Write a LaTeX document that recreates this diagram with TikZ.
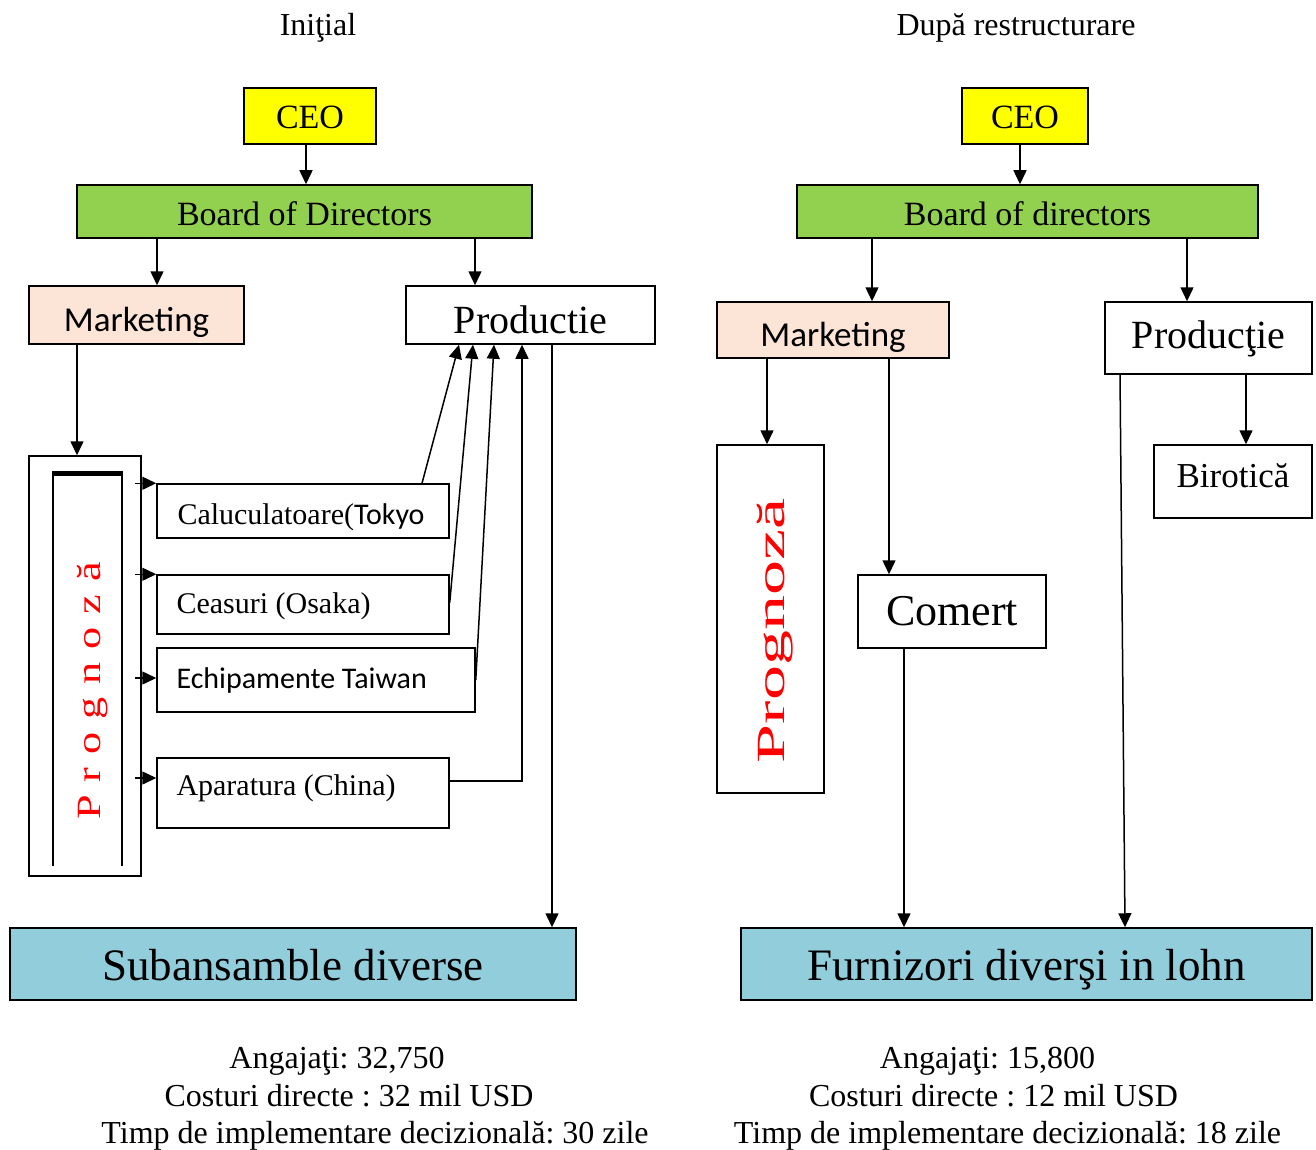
\documentclass[tikz,border=0pt]{standalone}
\usepackage{fontspec}
\setmainfont{Liberation Serif}
\newfontfamily\calibri{Carlito}
\usetikzlibrary{arrows.meta}
\frenchspacing
\definecolor{ceoY}{HTML}{FFFF00}
\definecolor{bodG}{HTML}{92D050}
\definecolor{mkP}{HTML}{FCE4D6}
\definecolor{subB}{HTML}{92CDDC}
\definecolor{progR}{HTML}{FF0000}
\newcommand\fs[1]{\fontsize{#1}{#1}\selectfont}
\newcommand\lsp{\hspace{10pt}}
% name, x0, y0, x1, y1, style, baseline offset, text
\newcommand\bx[8]{\node[box,#6,minimum width={(#4)-(#2)},minimum height={(#5)-(#3)}] (#1) at ({(#2+#4)/2},{(#3+#5)/2}) {\raisebox{-#7pt}{#8}};}
\begin{document}
\begin{tikzpicture}[x=1pt,y=-1pt,
  box/.style={draw,line width=1.5pt,inner sep=0pt,text height=0pt,text depth=0pt},
  arr/.style={line width=1.5pt,-{Triangle[length=14pt,width=13pt]}},
  txt/.style={inner sep=0pt,anchor=base},
  progtxt/.style={inner sep=0pt,text height=0pt,text depth=0pt,rotate=90,text=progR}]
\useasboundingbox (0,0) rectangle (1316,1150);

% titles
\node[txt] (tL) at (318,36) {\fs{32}Iniţial};
\node[txt] (tR) at (1016,36) {\fs{32}După restructurare};

% ---------- left ----------
\bx{ceoL}{244}{88}{376}{144}{fill=ceoY}{13}{\fs{34}CEO}
\bx{bodL}{77}{185}{532}{238}{fill=bodG}{13.5}{\fs{34}Board of Directors}
\bx{mkL}{29}{286}{244}{344}{fill=mkP}{16}{\calibri\fs{35}Marketing}
\bx{prL}{406}{286}{655}{344}{fill=white}{18}{\fs{40}Productie}
\bx{pgL}{29}{456}{141}{876}{fill=white}{0}{}
\bx{c1}{157}{484}{449}{538}{fill=white}{13}{\fs{30}\makebox[251pt][l]{Caluculatoare({\calibri Tokyo}}}
\bx{c2}{157}{575}{449}{634}{fill=white}{8.5}{\fs{30}\makebox[253pt][l]{Ceasuri (Osaka)}}
\bx{c3}{157}{648}{475}{712}{fill=white}{8}{\calibri\fs{30}\makebox[279pt][l]{Echipamente Taiwan}}
\bx{c4}{157}{758}{449}{828}{fill=white}{2}{\fs{30}\makebox[253pt][l]{Aparatura (China)}}
\bx{subL}{10}{928}{576}{1000}{fill=subB}{16}{\fs{45}Subansamble diverse}

% inner frame of Prognoza (left)
\draw[line width=1.7pt] (53,472) -- (53,866);
\draw[line width=1.1pt] (122,472) -- (122,866);
\draw[line width=4.5pt] (52,473.5) -- (123,473.5);
\node[progtxt] (pgtL) at (89,691) {\raisebox{-11pt}{\scalebox{1.3}[1]{\fs{34}P\lsp r\lsp o\lsp g\lsp n\lsp o\lsp z\lsp ă}}};

% left connectors
\draw[arr] (306,0 |- ceoL.south) -- (306,0 |- bodL.north);
\draw[arr] (157,0 |- bodL.south) -- (157,0 |- mkL.north);
\draw[arr] (475,0 |- bodL.south) -- (475,0 |- prL.north);
\draw[arr] (77,0 |- mkL.south) -- (77,0 |- pgL.north);
\draw[arr] ([xshift=-21pt]c1.north west) -- (c1.north west);
\draw[arr] ([xshift=-21pt]c2.north west) -- (c2.north west);
\draw[arr] ([xshift=-21pt,yshift=2pt]c3.west) -- ([yshift=2pt]c3.west);
\draw[arr] ([xshift=-21pt,yshift=15pt]c4.west) -- ([yshift=15pt]c4.west);
\draw[arr] (422,0 |- c1.north) -- (459,0 |- prL.south);
\draw[arr] ([yshift=2pt]c2.east) -- (473,0 |- prL.south);
\draw[arr] (c3.east) -- (494,0 |- prL.south);
\draw[arr] ([yshift=12pt]c4.east) -| (522,0 |- prL.south);
\draw[arr] (552,0 |- prL.south) -- (552,0 |- subL.north);

% bottom text left
\node[txt] (aL1) at (337,1068) {\fs{32}Angajaţi: 32,750};
\node[txt] (aL2) at (349,1106) {\fs{32}Costuri directe : 32 mil USD};
\node[txt] (aL3) at (375,1143) {\fs{32}Timp de implementare decizională: 30 zile};

% ---------- right ----------
\bx{ceoR}{962}{88}{1088}{144}{fill=ceoY}{13}{\fs{34}CEO}
\bx{bodR}{797}{185}{1258}{238}{fill=bodG}{13.5}{\fs{34}Board of directors}
\bx{mkR}{717}{302}{949}{358}{fill=mkP}{16}{\calibri\fs{35}Marketing}
\bx{prR}{1105}{302}{1312}{374}{fill=white}{10}{\fs{40}Producţie}
\bx{pgR}{717}{445}{824}{793}{fill=white}{0}{}
\bx{com}{858}{575}{1046}{648}{fill=white}{13.5}{\fs{44}Comert}
\bx{bir}{1154}{445}{1312}{518}{fill=white}{5.5}{\fs{35}Birotică}
\bx{subR}{741}{928}{1312}{1000}{fill=subB}{16}{\fs{45}Furnizori diverşi in lohn}
\node[progtxt] (pgtR) at (771,631) {\raisebox{-13pt}{\scalebox{1.75}[1]{\fs{40}Prognoză}}};

% right connectors
\draw[arr] (1020,0 |- ceoR.south) -- (1020,0 |- bodR.north);
\draw[arr] (872,0 |- bodR.south) -- (872,0 |- mkR.north);
\draw[arr] (1187,0 |- bodR.south) -- (1187,0 |- prR.north);
\draw[arr] (767,0 |- mkR.south) -- (767,0 |- pgR.north);
\draw[arr] (889,0 |- mkR.south) -- (889,0 |- com.north);
\draw[arr] (904,0 |- com.south) -- (904,0 |- subR.north);
\draw[arr] (1246,0 |- prR.south) -- (1246,0 |- bir.north);
\draw[arr] (1120,0 |- prR.south) -- (1125,0 |- subR.north);

% bottom text right
\node[txt] (aR1) at (987.5,1068) {\fs{32}Angajaţi: 15,800};
\node[txt] (aR2) at (993.5,1106) {\fs{32}Costuri directe : 12 mil USD};
\node[txt] (aR3) at (1007.5,1143) {\fs{32}Timp de implementare decizională: 18 zile};
\end{tikzpicture}
\end{document}
